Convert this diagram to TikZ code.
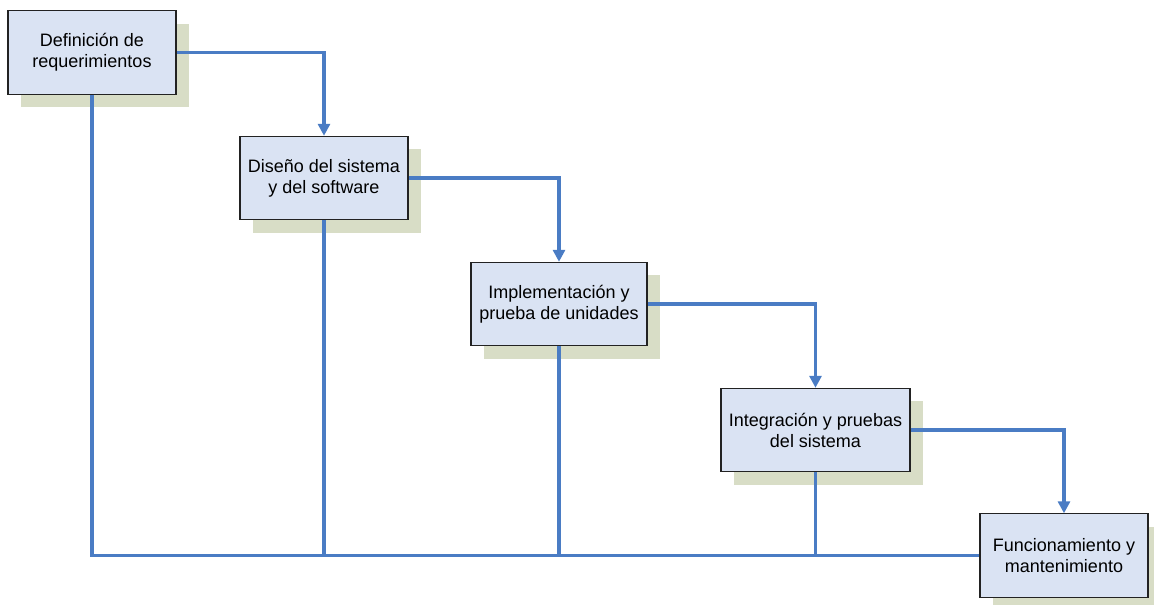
\documentclass[tikz,border=0pt]{standalone}
\usepackage{fontspec}
\setmainfont{Liberation Sans}
\usetikzlibrary{arrows.meta,shadows}
\definecolor{boxfill}{RGB}{218,227,243}
\definecolor{boxshadow}{RGB}{216,221,198}
\definecolor{flow}{RGB}{74,124,196}
\definecolor{boxline}{RGB}{34,34,34}
\tikzset{
  stage/.style={draw=boxline, line width=0.8pt, fill=boxfill,
    minimum height=62.5pt, align=center, inner sep=0pt,
    font=\fontsize{13.5}{15.75}\selectfont,
    general shadow={fill=boxshadow, shadow xshift=9.75pt, shadow yshift=-9.75pt}},
  flowline/.style={draw=flow, line width=2.3pt},
  flowarrow/.style={flowline, -{Triangle[length=9pt,width=9pt]}}
}
\begin{document}
\begin{tikzpicture}[x=0.75pt,y=-0.75pt]
\useasboundingbox (0,0) rectangle (1154,605);
% process stages
\node[stage, minimum width=126pt] (req) at (92,52.5) {Definición de\\requerimientos};
\node[stage, minimum width=126pt] (dis) at (324,178) {Diseño del sistema\\y del software};
\node[stage, minimum width=132pt] (imp) at (559,304) {Implementación y\\prueba de unidades};
\node[stage, minimum width=141.75pt] (int) at (815.5,430) {Integración y pruebas\\del sistema};
\node[stage, minimum width=126pt] (fun) at (1064,555.5) {Funcionamiento y\\mantenimiento};
% forward flow between stages
\draw[flowarrow] (req.east) -| (dis.north);
\draw[flowarrow] (dis.east) -| (imp.north);
\draw[flowarrow] (imp.east) -| (int.north);
\draw[flowarrow] (int.east) -| (fun.north);
% feedback bus along the bottom
\coordinate (b1) at (req.south |- fun.west);
\draw[flowline] (req.south) -- (b1) -- (fun.west);
\draw[flowline] (dis.south) -- (dis.south |- fun.west);
\draw[flowline] (imp.south) -- (imp.south |- fun.west);
\draw[flowline] (int.south) -- (int.south |- fun.west);
\end{tikzpicture}
\end{document}
